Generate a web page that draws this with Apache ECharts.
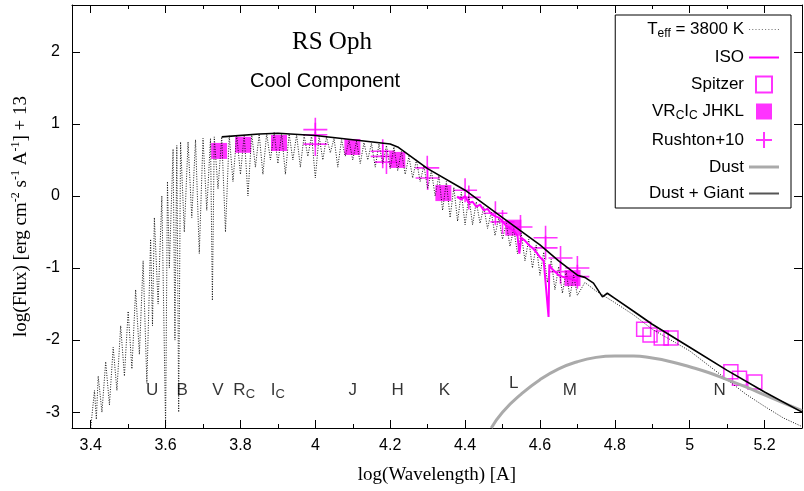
<!DOCTYPE html><html><head><meta charset="utf-8">
<script src="https://cdn.jsdelivr.net/npm/echarts@6/dist/echarts.min.js"></script>
<style>body{margin:0}#c{width:804px;height:491px}</style></head><body><div id="c"></div><script>
const spectrum=[[3.40,-3.22],[3.41,-2.7],[3.415,-3.1],[3.42,-2.5],[3.43,-3.0],[3.44,-2.3],[3.45,-2.9],[3.46,-2.1],[3.47,-2.7],[3.48,-1.8],[3.49,-2.5],[3.50,-1.6],[3.51,-2.4],[3.52,-1.3],[3.53,-2.2],[3.54,-0.9],[3.55,-2.6],[3.56,-0.6],[3.565,-1.8],[3.57,-0.3],[3.58,-1.5],[3.59,0.0],[3.60,-3.2],[3.605,0.2],[3.61,-1.0],[3.62,0.65],[3.625,-2.0],[3.63,0.7],[3.635,-3.0],[3.64,0.75],[3.65,-0.5],[3.66,0.75],[3.67,-0.3],[3.68,0.78],[3.69,-0.8],[3.70,0.8],[3.71,-0.2],[3.72,0.8],[3.725,-1.45],[3.73,0.82],[3.74,0.1],[3.75,0.82],[3.76,-0.5],[3.77,0.84],[3.78,0.2],[3.79,0.85],[3.80,0.3],[3.81,0.85],[3.82,0.0],[3.83,0.86],[3.84,0.4],[3.85,0.86],[3.86,0.3],[3.87,0.87],[3.88,0.5],[3.89,0.88],[3.90,0.45],[3.91,0.87],[3.92,0.3],[3.93,0.86],[3.94,0.5],[3.95,0.85],[3.96,0.4],[3.97,0.84],[3.98,0.55],[3.99,0.84],[4.00,0.25],[4.01,0.83],[4.02,0.5],[4.03,0.82],[4.04,0.6],[4.05,0.8],[4.06,0.4],[4.07,0.78],[4.08,0.55],[4.09,0.77],[4.10,0.5],[4.11,0.76],[4.12,0.45],[4.13,0.74],[4.14,0.5],[4.15,0.73],[4.16,0.4],[4.17,0.72],[4.18,0.45],[4.19,0.7],[4.20,0.38],[4.21,0.68],[4.22,0.35],[4.23,0.62],[4.24,0.3],[4.25,0.55],[4.26,0.25],[4.27,0.5],[4.28,0.2],[4.29,0.42],[4.30,0.1],[4.31,0.35],[4.32,0.0],[4.33,0.28],[4.34,-0.2],[4.35,0.2],[4.36,-0.3],[4.37,0.12],[4.38,-0.35],[4.39,0.05],[4.40,-0.4],[4.41,0.0],[4.42,-0.4],[4.43,-0.08],[4.44,-0.38],[4.45,-0.15],[4.46,-0.45],[4.47,-0.22],[4.48,-0.55],[4.49,-0.3],[4.50,-0.6],[4.51,-0.38],[4.52,-0.7],[4.53,-0.45],[4.54,-0.8],[4.55,-0.52],[4.56,-0.9],[4.57,-0.6],[4.58,-1.0],[4.59,-0.68],[4.60,-1.1],[4.61,-0.78],[4.62,-1.2],[4.63,-0.88],[4.64,-1.3],[4.65,-0.98],[4.66,-1.35],[4.67,-1.05],[4.68,-1.4],[4.69,-1.1],[4.70,-1.38],[4.72,-1.2],[4.75,-1.32],[4.80,-1.48],[4.85,-1.65],[4.90,-1.85],[4.95,-2.0],[5.00,-2.15],[5.05,-2.35],[5.10,-2.55],[5.15,-2.75],[5.20,-2.92],[5.25,-3.08],[5.30,-3.2]];
const iso=[[4.379,-0.01],[4.39,-0.05],[4.40,0.0],[4.41,-0.1],[4.42,-0.08],[4.43,-0.15],[4.44,-0.12],[4.45,-0.2],[4.46,-0.18],[4.47,-0.25],[4.48,-0.28],[4.49,-0.3],[4.50,-0.35],[4.51,-0.42],[4.52,-0.45],[4.53,-0.48],[4.54,-0.55],[4.545,-0.8],[4.55,-0.58],[4.56,-0.62],[4.57,-0.68],[4.58,-0.72],[4.59,-0.78],[4.60,-0.85],[4.61,-0.9],[4.623,-1.68],[4.625,-0.95],[4.63,-1.0],[4.64,-1.05],[4.65,-1.1],[4.66,-1.12],[4.68,-1.15],[4.70,-1.18]];
const spitzer=[[4.877,-1.85],[4.894,-1.93],[4.924,-1.97],[4.95,-1.97],[5.11,-2.44],[5.133,-2.53],[5.174,-2.58]];
const photometry=[[3.743,0.625],[3.807,0.71],[3.903,0.735],[4.099,0.68],[4.219,0.5],[4.342,0.04],[4.529,-0.44],[4.687,-1.14]];
const rushton=[[4.0,0.92],[4.0,0.85],[4.0,0.72],[4.18,0.62],[4.18,0.55],[4.19,0.47],[4.299,0.39],[4.30,0.25],[4.4,0.08],[4.41,-0.02],[4.481,-0.24],[4.5,-0.36],[4.548,-0.43],[4.615,-0.58],[4.615,-0.72],[4.655,-0.86],[4.655,-1.05],[4.70,-1.0],[4.70,-1.12]];
const dust=[[4.47,-3.22],[4.5,-3.0],[4.55,-2.75],[4.6,-2.55],[4.65,-2.4],[4.7,-2.3],[4.75,-2.24],[4.8,-2.22],[4.85,-2.22],[4.9,-2.25],[4.95,-2.3],[5.0,-2.37],[5.05,-2.45],[5.1,-2.55],[5.15,-2.65],[5.2,-2.76],[5.25,-2.87],[5.3,-2.98]];
const dustGiant=[[3.75,0.82],[3.85,0.86],[3.9,0.87],[4.0,0.84],[4.1,0.78],[4.2,0.72],[4.22,0.68],[4.3,0.38],[4.4,0.08],[4.5,-0.3],[4.6,-0.68],[4.65,-0.9],[4.7,-1.1],[4.72,-1.13],[4.743,-1.21],[4.767,-1.4],[4.78,-1.35],[4.8,-1.42],[4.85,-1.6],[4.9,-1.78],[5.0,-2.1],[5.1,-2.42],[5.2,-2.72],[5.3,-3.0]];
const bands=[['U',3.564],['B',3.644],['V',3.74],['R|C',3.81],['I|C',3.9],['J',4.1],['H',4.22],['K',4.345],['L',4.53],['M',4.68],['N',5.08]];
const bandY=[-2.7,-2.7,-2.7,-2.7,-2.7,-2.7,-2.7,-2.7,-2.6,-2.7,-2.7];
const xTicks=[3.4,3.6,3.8,4.0,4.2,4.4,4.6,4.8,5.0,5.2];
const xMinor=[3.4,3.5,3.6,3.7,3.8,3.9,4.0,4.1,4.2,4.3,4.4,4.5,4.6,4.7,4.8,4.9,5.0,5.1,5.2];
const yTicks=[-3,-2,-1,0,1,2];
const MAG='#ff00ff';
const F='"Liberation Sans",Arial,sans-serif', S='"Liberation Serif","Times New Roman",serif';
const cross='path://M0,5H10M5,0V10';
const ax=(show,pos,ticks,len,lab)=>({type:'value',min:3.35,max:5.3,position:pos,
 axisLine:{show:show,onZero:false,lineStyle:{color:'#000',width:1}},splitLine:{show:false},
 axisTick:{inside:true,length:len,customValues:ticks,lineStyle:{color:'#000'}},
 axisLabel:{show:lab,customValues:xTicks,color:'#000',fontFamily:F,fontSize:16,margin:10,formatter:v=>String(+v.toFixed(1))}});
const yax=(pos,lab)=>({type:'value',min:-3.22,max:2.65,position:pos,
 axisLine:{show:true,onZero:false,lineStyle:{color:'#000'}},splitLine:{show:false},
 axisTick:{inside:true,length:8,customValues:yTicks,lineStyle:{color:'#000'}},
 axisLabel:{show:lab,customValues:yTicks,color:'#000',fontFamily:F,fontSize:16,margin:12}});
const xa=[ax(true,'bottom',xTicks,8,true),ax(false,'bottom',xMinor,4,false),ax(true,'top',xTicks,8,false),ax(false,'top',xMinor,4,false)];
xa[0].name='log(Wavelength) [A]';xa[0].nameLocation='middle';xa[0].nameGap=38;
xa[0].nameTextStyle={fontFamily:S,fontSize:19,color:'#000'};
const ya=[yax('left',true),yax('right',false)];
ya[0].name='{a|log(Flux) [erg cm}{s|-2}{a| s}{s|-1}{a| A}{s|-1}{a|] + 13}';
ya[0].nameLocation='middle';ya[0].nameGap=40;
ya[0].nameTextStyle={rich:{a:{fontFamily:S,fontSize:19,color:'#000'},s:{fontFamily:S,fontSize:12,color:'#000',verticalAlign:'bottom',padding:[0,0,10,0]}}};
const lineIcon='path://M0,0H30V2H0Z', sq='path://M0,0H10V10H0Z';
const dotIcon='path://M0,0H1V1H0ZM3,0H4V1H3ZM6,0H7V1H6ZM9,0H10V1H9ZM12,0H13V1H12ZM15,0H16V1H15ZM18,0H19V1H18ZM21,0H22V1H21ZM24,0H25V1H24ZM27,0H28V1H27Z';
const chart=echarts.init(document.getElementById('c'));
chart.setOption({animation:false,
 grid:{left:72,right:2,top:5,bottom:63},
 xAxis:xa,yAxis:ya,
 legend:{right:13,top:15,orient:'vertical',align:'right',itemGap:9.5,itemWidth:30,itemHeight:16,
  borderColor:'#000',borderWidth:1,borderRadius:0,padding:[6,12,6,32],backgroundColor:'#fff',
  textStyle:{fontFamily:F,fontSize:17,color:'#000',rich:{a:{fontFamily:F,fontSize:17},s:{fontFamily:F,fontSize:12,verticalAlign:'bottom',padding:[8,0,0,0]}}},
  formatter:n=>n==='Teff'?'{a|T}{s|eff}{a| = 3800 K}':n==='VRI'?'{a|VR}{s|C}{a|I}{s|C}{a| JHKL}':n,
  data:[{name:'Teff',icon:dotIcon,itemStyle:{color:'#777'}},{name:'ISO',icon:lineIcon},{name:'Spitzer',icon:sq},{name:'VRI',icon:sq},{name:'Rushton+10',icon:cross},{name:'Dust',icon:'path://M0,0H30V3H0Z',itemStyle:{color:'#aaa'}},{name:'Dust + Giant',icon:lineIcon,itemStyle:{color:'#555'}}]},
 series:[
  {name:'Teff',type:'line',data:spectrum,symbol:'none',lineStyle:{color:'#000',width:0.9,type:[1,1.5]},itemStyle:{color:'#777'}},
  {name:'Dust',type:'line',data:dust,symbol:'none',smooth:true,lineStyle:{color:'#aaa',width:3},itemStyle:{color:'#aaa'}},
  {name:'Dust + Giant',type:'line',data:dustGiant,symbol:'none',lineStyle:{color:'#000',width:1.6},itemStyle:{color:'#555'}},
  {name:'ISO',type:'line',data:iso,symbol:'none',lineStyle:{color:MAG,width:2},itemStyle:{color:MAG}},
  {name:'Spitzer',type:'scatter',data:spitzer,symbol:'rect',symbolSize:14,itemStyle:{color:'rgba(0,0,0,0)',borderColor:MAG,borderWidth:1.5}},
  {name:'VRI',type:'scatter',data:photometry,symbol:'rect',symbolSize:16,itemStyle:{color:MAG}},
  {name:'Rushton+10',type:'scatter',data:rushton,symbol:cross,symbolSize:24,itemStyle:{color:'rgba(0,0,0,0)',borderColor:MAG,borderWidth:1.6}},
  {type:'scatter',data:bands.map((b,i)=>[b[1],bandY[i]]),symbolSize:0,silent:true,
   label:{show:true,position:'inside',formatter:p=>{const s=bands[p.dataIndex][0].split('|');return s.length>1?'{a|'+s[0]+'}{s|'+s[1]+'}':'{a|'+s[0]+'}';},
   rich:{a:{fontFamily:F,fontSize:17,color:'#000'},s:{fontFamily:F,fontSize:13,color:'#000',verticalAlign:'top',padding:[8,0,0,0]}}}}
 ],
 graphic:[
  {type:'text',left:292,top:30,style:{text:'RS Oph',font:'25px '+S,fill:'#000'}},
  {type:'text',left:250,top:71,style:{text:'Cool Component',font:'20px '+F,fill:'#000'}}
 ]});
</script></body></html>
